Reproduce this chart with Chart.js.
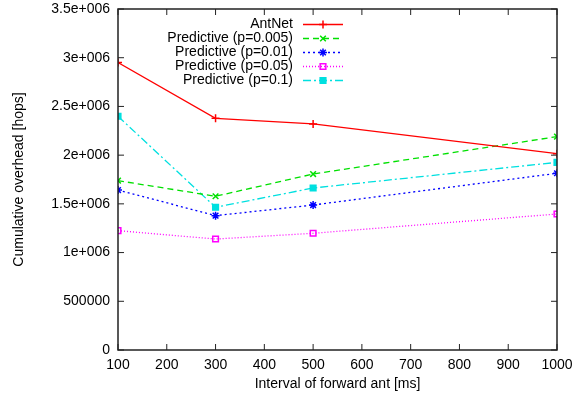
<!DOCTYPE html>
<html>
<head>
<meta charset="utf-8">
<script src="https://cdn.jsdelivr.net/npm/chart.js@4/dist/chart.umd.min.js"></script>
<style>
  html, body { margin: 0; padding: 0; background: #fff; }
  canvas { display: block; }
</style>
</head>
<body>
<canvas id="chart" width="574" height="398"></canvas>
<script>
// Données
const intervals = [100, 300, 500, 1000];
const antnet = [2950000, 2378000, 2320000, 2015000];
const pred0005 = [1738000, 1578000, 1806000, 2190000];
const pred001 = [1642000, 1379000, 1488000, 1814000];
const pred005 = [1225000, 1139000, 1198000, 1396000];
const pred01 = [2399000, 1465000, 1663000, 1926000];

const seriesNames = [
  "AntNet",
  "Predictive (p=0.005)",
  "Predictive (p=0.01)",
  "Predictive (p=0.05)",
  "Predictive (p=0.1)",
];

const FONT = "'Liberation Sans', Arial, sans-serif";
const FONT_SIZE = 14;

function toPoints(values) {
  return values.map((v, i) => ({ x: intervals[i], y: v }));
}

// Style de chaque série (façon gnuplot)
const styles = [
  { color: "#ff0000", dash: [], point: "cross", fill: false },
  { color: "#00e000", dash: [6, 4], point: "crossRot", fill: false },
  { color: "#0000ff", dash: [2, 3], point: "star", fill: false },
  { color: "#ff00ff", dash: [1, 2], point: "rect", fill: false },
  { color: "#00e0e0", dash: [8, 3, 2, 3], point: "rect", fill: true },
];
const allValues = [antnet, pred0005, pred001, pred005, pred01];

const datasets = allValues.map((vals, i) => ({
  label: seriesNames[i],
  data: toPoints(vals),
  borderColor: styles[i].color,
  backgroundColor: styles[i].fill ? styles[i].color : "rgba(0,0,0,0)",
  borderDash: styles[i].dash,
  borderWidth: 1.3,
  pointStyle: styles[i].point,
  pointRadius: 4,
  pointBorderWidth: 1.5,
  tension: 0,
}));

// Cadre, graduations intérieures et légende à la manière de gnuplot
const gnuplotFrame = {
  id: "gnuplotFrame",
  afterDraw(chart) {
    const { ctx, chartArea: a, scales } = chart;
    ctx.save();
    ctx.strokeStyle = "#222";
    ctx.lineWidth = 1.5;
    ctx.setLineDash([]);
    ctx.strokeRect(a.left, a.top, a.right - a.left, a.bottom - a.top);
    ctx.lineWidth = 1;
    const len = 6;
    scales.x.ticks.forEach((t) => {
      const px = scales.x.getPixelForValue(t.value);
      ctx.beginPath();
      ctx.moveTo(px, a.bottom); ctx.lineTo(px, a.bottom - len);
      ctx.moveTo(px, a.top); ctx.lineTo(px, a.top + len);
      ctx.stroke();
    });
    scales.y.ticks.forEach((t) => {
      const py = scales.y.getPixelForValue(t.value);
      ctx.beginPath();
      ctx.moveTo(a.left, py); ctx.lineTo(a.left + len, py);
      ctx.moveTo(a.right, py); ctx.lineTo(a.right - len, py);
      ctx.stroke();
    });

    // Légende
    ctx.font = FONT_SIZE + "px " + FONT;
    ctx.textAlign = "right";
    ctx.textBaseline = "middle";
    chart.data.datasets.forEach((ds, i) => {
      const y = a.top + 15.5 + i * 14;
      const textX = a.left + 175;
      ctx.fillStyle = "#000";
      ctx.fillText(ds.label, textX, y);
      const x0 = textX + 10, x1 = textX + 50;
      ctx.strokeStyle = ds.borderColor;
      ctx.lineWidth = ds.borderWidth;
      ctx.setLineDash(ds.borderDash);
      ctx.beginPath();
      ctx.moveTo(x0, y); ctx.lineTo(x1, y);
      ctx.stroke();
      ctx.setLineDash([]);
      ctx.lineWidth = ds.pointBorderWidth;
      ctx.fillStyle = ds.backgroundColor;
      Chart.helpers.drawPoint(ctx, {
        pointStyle: ds.pointStyle,
        radius: ds.pointRadius,
        borderWidth: ds.pointBorderWidth,
        rotation: 0,
      }, (x0 + x1) / 2, y);
    });
    ctx.restore();
  },
};

new Chart(document.getElementById("chart").getContext("2d"), {
  type: "line",
  data: { datasets },
  options: {
    responsive: false,
    animation: false,
    layout: { padding: { top: 9, right: 17, left: 0, bottom: 0 } },
    plugins: {
      legend: { display: false },
      tooltip: { enabled: false },
    },
    scales: {
      x: {
        type: "linear",
        min: 100,
        max: 1000,
        grid: { display: false, drawTicks: false },
        border: { display: false },
        ticks: {
          stepSize: 100,
          color: "#000",
          padding: 7,
          font: { family: FONT, size: FONT_SIZE },
          callback: (v) => String(v),
        },
        title: {
          display: true,
          text: "Interval of forward ant [ms]",
          color: "#000",
          font: { family: FONT, size: FONT_SIZE },
          padding: { top: 2, bottom: 5 },
        },
        afterFit(scale) {
          scale.height = 48;
          scale.paddingLeft = 0;
          scale.paddingRight = 0;
        },
      },
      y: {
        min: 0,
        max: 3500000,
        grid: { display: false, drawTicks: false },
        border: { display: false },
        ticks: {
          stepSize: 500000,
          color: "#000",
          padding: 8,
          font: { family: FONT, size: FONT_SIZE },
          callback: (v) => (v === 0 ? "0" : v < 1000000 ? String(v) : v / 1000000 + "e+006"),
        },
        title: {
          display: true,
          text: "Cumulative overhead [hops]",
          color: "#000",
          font: { family: FONT, size: FONT_SIZE },
          padding: { top: 11, bottom: 0 },
        },
        afterFit(scale) {
          scale.width = 118;
          scale.paddingTop = 0;
          scale.paddingBottom = 0;
        },
      },
    },
  },
  plugins: [gnuplotFrame],
});
</script>
</body>
</html>
